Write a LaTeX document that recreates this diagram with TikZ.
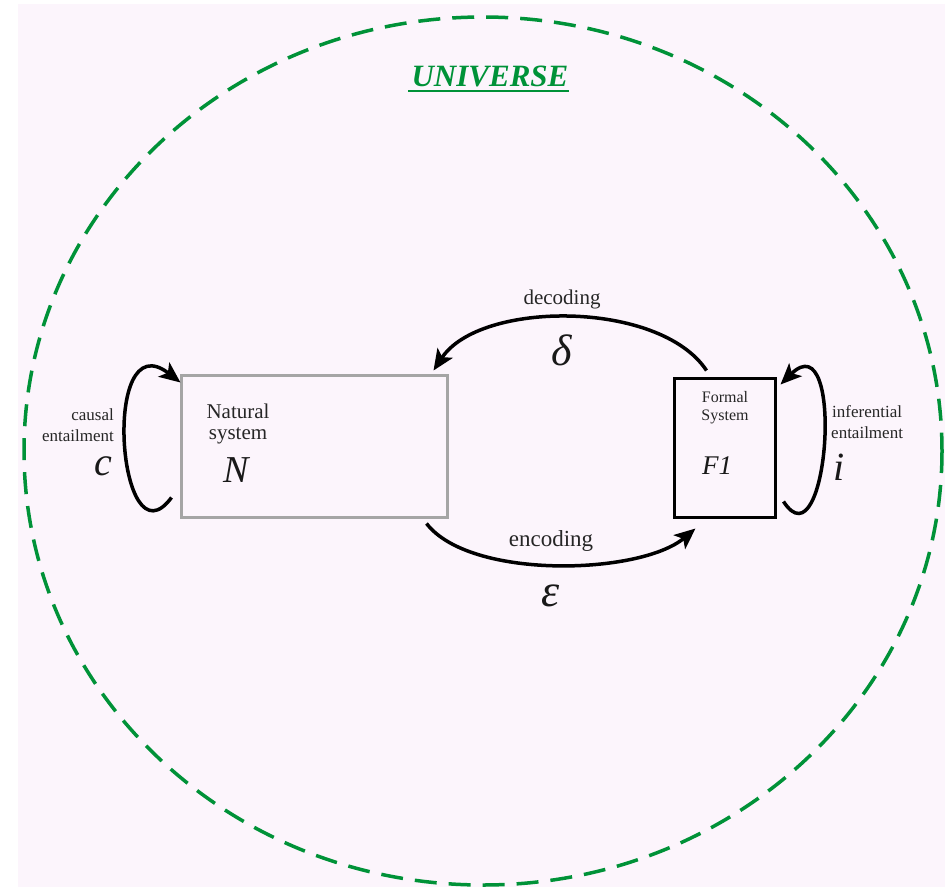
\documentclass[tikz,border=0pt]{standalone}
\usepackage{fontspec}
\setmainfont{Liberation Serif}
\usetikzlibrary{arrows.meta}
\usetikzlibrary{positioning}

\definecolor{bgpink}{RGB}{252,245,252}
\definecolor{unigreen}{RGB}{0,146,56}
\definecolor{natgray}{RGB}{165,165,165}

\begin{document}
\begin{tikzpicture}[x=1pt,y=-1pt,sysbox/.style={draw,line width=3pt,inner sep=0pt},loop/.style={line width=3.5pt,-{Stealth[length=21pt,width=18pt,inset=5pt]}},small/.style={font=\fontsize{17}{21}\selectfont,align=center,inner sep=0pt,text=black!85},label/.style={font=\fontsize{21}{21}\selectfont,align=center,inner sep=0pt,text=black!85},sym/.style={font=\fontsize{#1}{#1}\selectfont\itshape,inner sep=0pt,text=black!90}]
  % page and universe
  \useasboundingbox (0,0) rectangle (945,887);
  \fill[white] (0,0) rectangle (945,887);
  \fill[bgpink] (18,4) rectangle (945,887);
  \draw[unigreen,line width=3.5pt,dash pattern=on 22pt off 12pt] (483,451) ellipse [x radius=459, y radius=434];
  \node[font=\fontsize{31}{31}\selectfont\bfseries\itshape,text=unigreen,inner sep=0pt] (uni) at (490,76) {UNIVERSE};
  \draw[unigreen,line width=2pt] ([shift={(-3,5)}]uni.base west) -- ([shift={(0,5)}]uni.base east);

  % the two systems
  \node[sysbox,draw=natgray,minimum width=266pt,minimum height=142pt] (nat) at (314,446) {};
  \node[sysbox,minimum width=101pt,minimum height=139pt] (fsys) at (724.5,447.5) {};
  \node[label] (natlbl) at (238,424) {Natural\\system};
  \node[sym=38] (natsym) at (236,470) {N};
  \node[small,font=\fontsize{16}{18}\selectfont] (fsyslbl) at (725,408) {Formal\\System};
  \node[sym=27] (fsyssym) at (717,466) {F1};

  % decoding / encoding
  \draw[loop] ([shift={(34,-6)}]fsys.north west) .. controls (660,300) and (480,300) .. ([shift={(-15,-3)}]nat.north east);
  \node[label] (dec) at (562,299) {decoding};
  \node[sym=44] (delta) at (562,350) {δ};
  \draw[loop] ([shift={(-22,5)}]nat.south east) .. controls (470,580) and (640,575) .. ([shift={(23,10)}]fsys.south west);
  \node[label,font=\fontsize{23}{23}\selectfont] (enc) at (551,541) {encoding};
  \node[sym=46] (eps) at (551,596) {ε};

  % entailment loops
  \draw[loop] ([shift={(-8,-21)}]nat.south west) .. controls (118,570) and (100,320) .. ([shift={(1,9)}]nat.north west);
  \node[small,align=right,anchor=east] (caus) at (114,425) {causal\\entailment};
  \node[sym=40] (csym) at (103,466) {c};
  \draw[loop] ([shift={(7,-17)}]fsys.south east) .. controls (828,570) and (846,320) .. ([shift={(4,8)}]fsys.north east);
  \node[small,anchor=west] (infer) at (831,422) {inferential\\entailment};
  \node[sym=40] (isym) at (839,467) {i};
\end{tikzpicture}
\end{document}
